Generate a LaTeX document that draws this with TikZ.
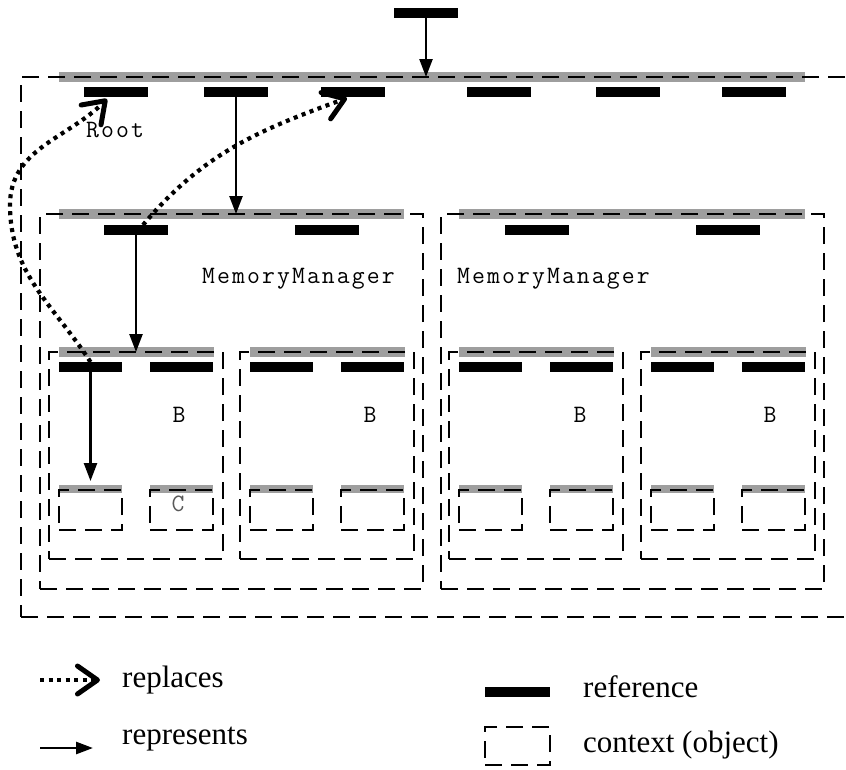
\documentclass[tikz,border=0pt]{standalone}
\usepackage{fontspec}
\setmainfont{Liberation Serif}
\setmonofont[LetterSpace=8.4]{Latin Modern Mono}
\usetikzlibrary{arrows.meta}
\tikzset{
  ctxbox/.style={draw, line width=2.2pt, dash pattern=on 17pt off 9pt, rectangle, inner sep=0pt, outer sep=0pt, anchor=north west},
  graybar/.style={fill=black!38, rectangle, inner sep=0pt, outer sep=0pt, minimum height=10pt, anchor=west},
  refbar/.style={fill=black, rectangle, inner sep=0pt, outer sep=0pt, minimum width=64pt, minimum height=10pt, anchor=north west},
  represents/.style={line width=2.4pt, -{Triangle[length=18pt,width=13pt]}},
  replaces/.style={line width=4.2pt, dash pattern=on 4pt off 4.5pt, -{Straight Barb[length=20pt,width=28pt,round,line width=5pt]}},
  monolbl/.style={font=\ttfamily\fontsize{25}{25}\selectfont, inner sep=0pt, anchor=base west},
  legendtxt/.style={font=\fontsize{31}{31}\selectfont, inner sep=0pt, anchor=base west}
}
\begin{document}
\begin{tikzpicture}[x=1pt,y=-1pt]
\useasboundingbox (0,0) rectangle (846,769);
\clip (0,0) rectangle (846,769);
% top reference
\node[refbar] (top) at (394,8) {};
% Root context
\node[graybar, minimum width=746pt] (rootg) at (59,77) {};
\node[ctxbox, minimum width=870pt, minimum height=540pt] (root) at (21,77) {};
\node[refbar] (rr1) at (84,87) {};
\node[refbar] (rr2) at (204,87) {};
\node[refbar] (rr3) at (321,87) {};
\node[refbar] (rr4) at (467,87) {};
\node[refbar] (rr5) at (596,87) {};
\node[refbar] (rr6) at (722,87) {};
\node[monolbl] (rootlbl) at (86,137) {Root};
% MemoryManager contexts
\node[graybar, minimum width=345pt] (m1g) at (59,214) {};
\node[ctxbox, minimum width=383pt, minimum height=375pt] (mm1) at (40,214) {};
\node[refbar] (m1r1) at (104,225) {};
\node[refbar] (m1r2) at (295,225) {};
\node[monolbl] (mm1lbl) at (202,283) {MemoryManager};
\node[graybar, minimum width=346pt] (m2g) at (459,214) {};
\node[ctxbox, minimum width=383pt, minimum height=375pt] (mm2) at (441,214) {};
\node[refbar] (m2r1) at (505,225) {};
\node[refbar] (m2r2) at (696,225) {};
\node[monolbl] (mm2lbl) at (457,283) {MemoryManager};
% B contexts with C contexts
\foreach \n/\bx/\rA/\rB/\lx in {1/49/59/150/179, 2/240/250/341/370, 3/449/459/550/580, 4/641/651/742/770} {
  \node[graybar, minimum width=155pt] (bg\n) at (\rA,352) {};
  \node[ctxbox, minimum width=174pt, minimum height=207pt] (b\n) at (\bx,352) {};
  \node[refbar, minimum width=63pt] (b\n r1) at (\rA,362) {};
  \node[refbar, minimum width=63pt] (b\n r2) at (\rB,362) {};
  \node[monolbl, anchor=base] (b\n lbl) at (\lx,422) {B};
  \node[graybar, minimum width=63pt, minimum height=8pt] (c\n ag) at (\rA,489) {};
  \node[ctxbox, minimum width=63pt, minimum height=40pt] (c\n a) at (\rA,490) {};
  \node[graybar, minimum width=63pt, minimum height=8pt] (c\n bg) at (\rB,489) {};
  \node[ctxbox, minimum width=63pt, minimum height=40pt] (c\n b) at (\rB,490) {};
}
\node[monolbl, anchor=base, text=black!65] (clbl) at (178,511) {C};
% represents arrows
\draw[represents] (top.south) -- (top.south |- root.north);
\draw[represents] (rr2.south) -- (rr2.south |- mm1.north);
\draw[represents] (m1r1.south) -- (m1r1.south |- b1.north);
\draw[represents, shorten >=9pt] (b1r1.south) -- (b1r1.south |- c1a.north);
% replaces arrows
\coordinate (dl) at (10,205);
\draw[replaces] (b1r1.north) to[out=123,in=270] (dl) to[out=90,in=225] ([xshift=-9pt,yshift=-2pt]rr1.south);
\draw[replaces] ([xshift=7pt]m1r1.north) to[out=50,in=200] ([xshift=-6pt,yshift=-1pt]rr3.south);
% legend
\coordinate (l1s) at (40,680);
\coordinate (l1e) at (100,680);
\draw[replaces] (l1s) -- (l1e);
\node[legendtxt] (ltxt1) at (122,687) {replaces};
\coordinate (l2s) at (40,748);
\coordinate (l2e) at (93,748);
\draw[line width=2.6pt, -{Triangle[length=17pt,width=12pt]}] (l2s) -- (l2e);
\node[legendtxt] (ltxt2) at (122,744) {represents};
\node[refbar, minimum width=65pt, minimum height=10pt] (lgref) at (485,687) {};
\node[legendtxt] (ltxt3) at (583,697) {reference};
\node[ctxbox, minimum width=65pt, minimum height=38pt] (lgctx) at (485,727) {};
\node[legendtxt] (ltxt4) at (583,752) {context (object)};
\end{tikzpicture}
\end{document}
